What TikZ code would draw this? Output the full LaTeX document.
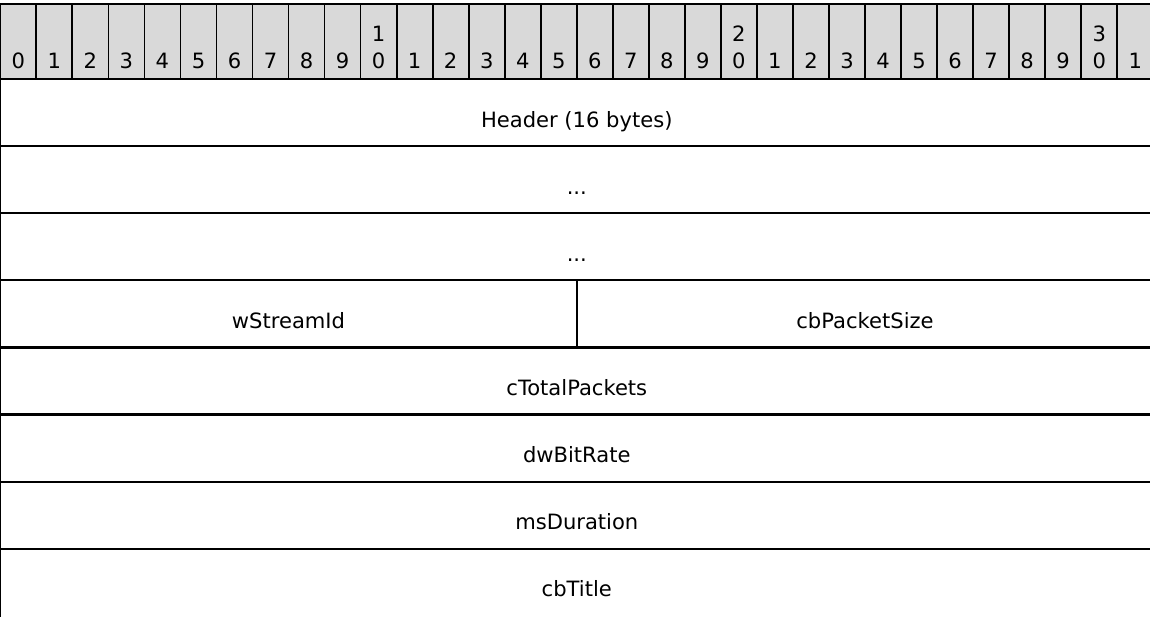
\documentclass[tikz,border=0pt]{standalone}
\usepackage{fontspec}
\setmainfont{DejaVu Sans}

\definecolor{rulergray}{RGB}{217,217,217}
\newcommand{\fielddots}{...}

\tikzset{
  bitcell/.style={draw=black,line width=1pt,fill=rulergray},
  fieldbox/.style={draw=black,line width=1.25pt},
  bitnum/.style={anchor=base,inner sep=0pt,font=\fontsize{12}{14}\selectfont},
  fieldname/.style={anchor=base,inner sep=0pt,font=\fontsize{12}{14}\selectfont}
}

\begin{document}
\begin{tikzpicture}[x=0.02cm,y=-0.02cm]
  \useasboundingbox (0,0) rectangle (1150,616);

  % bit ruler, 0..31
  \foreach \i in {0,...,31} {
    \draw[bitcell] ({0.3+\i*36.03},4) rectangle ({0.3+(\i+1)*36.03},79);
    \pgfmathtruncatemacro{\units}{mod(\i,10)}
    \pgfmathtruncatemacro{\tens}{div(\i,10)}
    \node[bitnum] (u\i) at ({0.3+(\i+0.5)*36.03},68.3) {\units};
    \ifnum\units=0 \ifnum\tens>0
      \node[bitnum] (t\i) at ({0.3+(\i+0.5)*36.03},41.7) {\tens};
    \fi\fi
  }

  % full-width fields
  \foreach \row/\name in {0/Header (16 bytes),1/\fielddots,2/\fielddots,4/cTotalPackets,5/dwBitRate,6/msDuration} {
    \draw[fieldbox] (0.3,{79+\row*67.1}) rectangle (1153.3,{79+(\row+1)*67.1});
    \node[fieldname] (f\row) at (576.8,{79+\row*67.1+48}) {\name};
  }
  % last field runs on below the edge
  \draw[fieldbox] (0.3,625) -- (0.3,548.7) -- (1153.3,548.7) -- (1153.3,625);
  \node[fieldname] (f7) at (576.8,596.7) {cbTitle};

  % two 16-bit fields
  \draw[fieldbox] (0.3,280.3) rectangle (576.8,347.4);
  \draw[fieldbox] (576.8,280.3) rectangle (1153.3,347.4);
  \node[fieldname] (streamid) at (288.5,328.3) {wStreamId};
  \node[fieldname] (packetsize) at (865,328.3) {cbPacketSize};
\end{tikzpicture}
\end{document}
